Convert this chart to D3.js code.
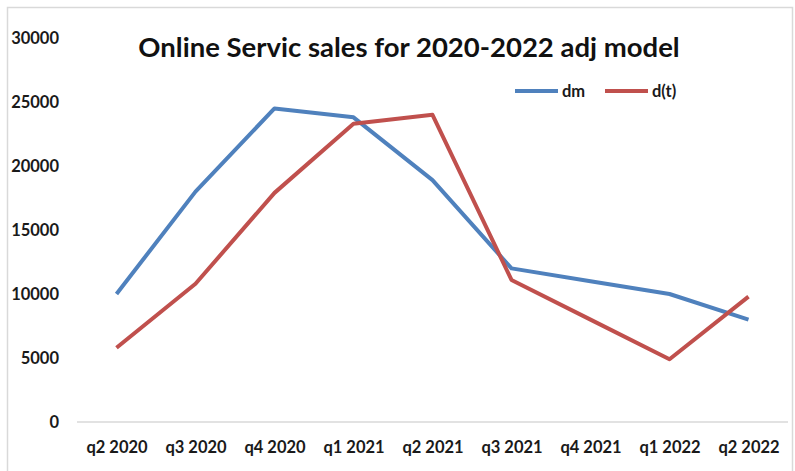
<!DOCTYPE html>
<html><head><meta charset="utf-8">
<script src="https://cdn.jsdelivr.net/npm/d3@7"></script>
<style>body{margin:0;background:#fff;overflow:hidden}svg{display:block}</style>
</head><body>
<svg id="c" width="795" height="471"></svg>
<script>
const categories = ["q2 2020","q3 2020","q4 2020","q1 2021","q2 2021","q3 2021","q4 2021","q1 2022","q2 2022"];
const dm = [10000,18000,24500,23800,18900,12000,11000,10000,8000];
const dt = [5800,10800,17900,23300,24000,11100,8000,4900,9800];
const yTicks = [0,5000,10000,15000,20000,25000,30000];
const seriesNames = ["dm","d(t)"];
const colors = ["#4F81BD","#C0504D"];

(function(){
const svg = d3.select("#c");
const font = "Lato, 'Open Sans', sans-serif";
const fs = 16.5;
svg.append("rect").attr("x",7.5).attr("y",7.5).attr("width",785).attr("height",475)
  .attr("fill","#fff").attr("stroke","#d9d9d9").attr("stroke-width",1.5);

const pLeft=77, pRight=788, pTop=38, pBottom=422;
const x = d3.scalePoint().domain(categories).range([pLeft,pRight]).padding(0.5);
const y = d3.scaleLinear().domain([0,30000]).range([pBottom,pTop]);

svg.append("g").selectAll("text").data(yTicks).join("text")
  .attr("x",59).attr("y",d=>y(d)).attr("dy","0.36em").attr("text-anchor","end")
  .attr("font-family",font).attr("font-weight","bold").attr("font-size",fs).attr("fill","#1a1a1a")
  .text(d=>d);
const xa = svg.append("g").attr("transform",`translate(0,${pBottom})`)
  .call(d3.axisBottom(x).tickSize(0).tickPadding(19));
xa.select(".domain").attr("stroke","#d9d9d9").attr("stroke-width",1.5).attr("d",`M${pLeft},0H${pRight}`);
xa.selectAll("text").attr("font-family",font).attr("font-weight","bold").attr("font-size",fs).attr("fill","#1a1a1a");

const line = d3.line().x((d,i)=>x(categories[i])).y(d=>y(d));
[dm,dt].forEach((s,k)=>{
  svg.append("path").datum(s).attr("d",line).attr("fill","none")
    .attr("stroke",colors[k]).attr("stroke-width",4).attr("stroke-linejoin","round");
});

svg.append("text").attr("x",409).attr("y",57).attr("text-anchor","middle")
  .attr("font-family",font).attr("font-weight","bold").attr("font-size",27.5).attr("fill","#111")
  .text("Online Servic sales for 2020-2022 adj model");

const lg = [[515,558,562],[605,648,652]];
seriesNames.forEach((n,k)=>{
  svg.append("line").attr("x1",lg[k][0]).attr("x2",lg[k][1]).attr("y1",91).attr("y2",91)
    .attr("stroke",colors[k]).attr("stroke-width",4);
  svg.append("text").attr("x",lg[k][2]).attr("y",97)
    .attr("font-family",font).attr("font-weight","bold").attr("font-size",fs).attr("fill","#1a1a1a").text(n);
});
})();
</script>
</body></html>
